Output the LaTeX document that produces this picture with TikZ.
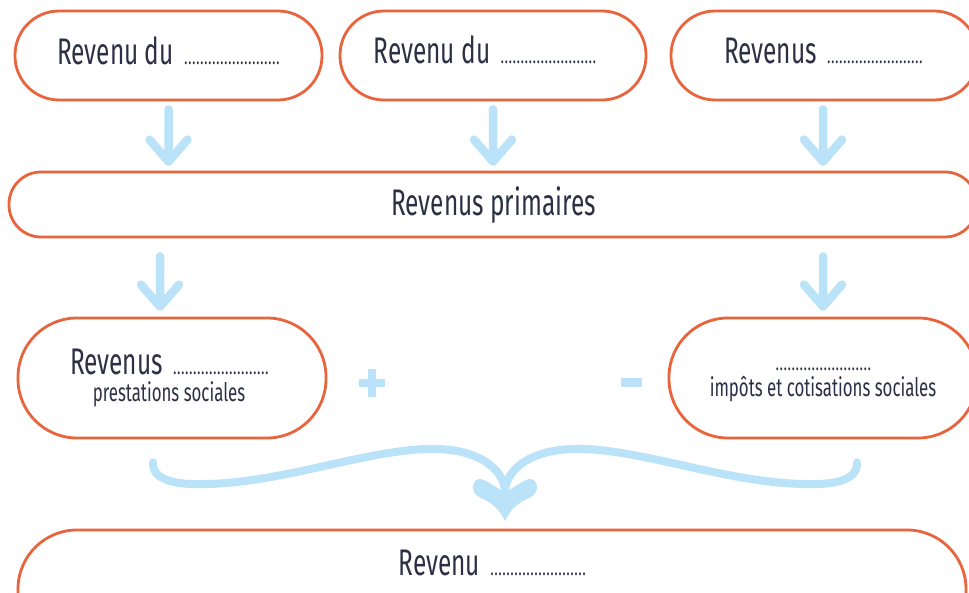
\documentclass[tikz,border=0pt]{standalone}
\usepackage{fontspec}
\setmainfont{Fira Sans}[FakeStretch=0.66]
\usetikzlibrary{calc}
\definecolor{orangec}{HTML}{E8643C}
\definecolor{bluec}{HTML}{BAE2F8}
\definecolor{textc}{HTML}{2B3045}
\newcommand\blankdots{\hbox to 96pt{\xleaders\hbox to 4pt{\hss\fontsize{16}{16}\bfseries\selectfont.\hss}\hfill}}
\newcommand\bigtxt{\fontsize{37}{40}\selectfont}
\newcommand\smalltxt{\fontsize{25.5}{27}\selectfont}
\newcommand\bluearrow[2]{\draw[barrow] (#1) -- (#2) ($(#2)+(-19,-22)$) -- (#2) -- ($(#2)+(19,-22)$);}
\begin{document}
\begin{tikzpicture}[x=1pt,y=-1pt,
 pill/.style={draw=orangec, line width=2.8pt, rounded corners=#1, inner sep=0pt, fill=white},
 lbl/.style={text=textc, inner sep=0pt, anchor=base},
 barrow/.style={draw=bluec, line width=8.5pt, line cap=round, line join=round},
 brush/.style={draw=bluec, line width=8pt, line cap=round}]
\useasboundingbox (0,0) rectangle (969,593);
\clip (0,0) rectangle (969,593);
% boxes
\node[pill=44pt, minimum width=307pt, minimum height=89pt] (t1) at (168.5,55.5) {};
\node[pill=44pt, minimum width=306pt, minimum height=89pt] (t2) at (493,55.5) {};
\node[pill=44pt, minimum width=307pt, minimum height=89pt] (t3) at (824.5,55.5) {};
\node[pill=32pt, minimum width=968pt, minimum height=65pt] (prim) at (493,204.5) {};
\node[pill=59pt, minimum width=308pt, minimum height=120pt] (ml) at (172,378) {};
\node[pill=59pt, minimum width=308pt, minimum height=120pt] (mr) at (823,378) {};
\node[pill=59pt, minimum width=948pt, minimum height=120pt] (bot) at (492,590) {};
% texts
\node[lbl] (t1txt) at (168.5,65) {\bigtxt Revenu du\hspace{10pt}\blankdots};
\node[lbl] (t2txt) at (485,64) {\bigtxt Revenu du\hspace{10pt}\blankdots};
\node[lbl] (t3txt) at (823.5,64) {\bigtxt Revenus\hspace{10pt}\blankdots};
\node[lbl] (primtxt) at (493.5,216) {\bigtxt Revenus primaires};
\node[lbl] (mltxt1) at (169.5,375) {\bigtxt Revenus\hspace{10pt}\blankdots};
\node[lbl] (mltxt2) at (169,401) {\smalltxt prestations sociales};
\node[lbl] (mrtxt1) at (823.5,371) {\blankdots};
\node[lbl] (mrtxt2) at (823,396) {\smalltxt impôts et cotisations sociales};
\node[lbl] (bottxt) at (492.5,575) {\bigtxt Revenu\hspace{10pt}\blankdots};
% arrows
\bluearrow{$(t1.south)+(0,8)$}{$(t1.south |- prim.north)+(0,-9)$}
\bluearrow{$(t2.south)+(0,8)$}{$(t2.south |- prim.north)+(0,-9)$}
\bluearrow{$(t3.south)+(-1.5,8)$}{$(t3.south |- prim.north)+(-1.5,-9)$}
\bluearrow{$(ml.north |- prim.south)+(-12,18)$}{$(ml.north)+(-12,-10)$}
\bluearrow{$(mr.north |- prim.south)+(0,18)$}{$(mr.north)+(0,-10)$}
% plus and minus
\draw[bluec, line width=8pt] (359,383) -- (385,383) (372,369) -- (372,397);
\draw[bluec, line width=9pt] (621,382.5) -- (642,382.5);
% brush connector
\coordinate (cl) at ($(ml.south)+(-19,23)$);
\coordinate (cr) at ($(mr.south)+(34,23)$);
\coordinate (jn) at (505,490);
\draw[brush] (cl) .. controls (152,480) and (175,485) .. (205,484) .. controls (280,483) and (360,452) .. (425,449) .. controls (480,447) and (503,470) .. (jn);
\draw[brush] (cr) .. controls (858,480) and (835,485) .. (805,484) .. controls (730,483) and (650,452) .. (585,449) .. controls (530,447) and (507,470) .. (jn);
\fill[bluec] (505,521) .. controls (500,510) and (493,503) .. (479,497) .. controls (470,492) and (472,479) .. (480,479) .. controls (488,480) and (497,489) .. (505,492) .. controls (513,489) and (522,480) .. (530,479) .. controls (538,479) and (540,492) .. (531,497) .. controls (517,503) and (510,510) .. (505,521) -- cycle;
\end{tikzpicture}
\end{document}
